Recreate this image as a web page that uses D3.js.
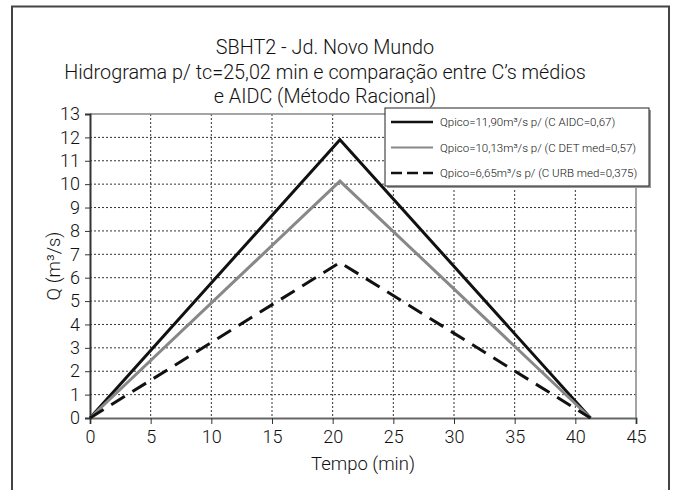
<!DOCTYPE html>
<html><head><meta charset="utf-8">
<script src="https://cdn.jsdelivr.net/npm/d3@7"></script>
<style>
body{margin:0;background:#fff;}
svg{display:block;font-family:Roboto,"Liberation Sans",Arial,sans-serif;font-weight:300;}
</style></head>
<body><svg id="c" width="675" height="490"></svg>
<script>
const titleLines = ["SBHT2 - Jd. Novo Mundo", "Hidrograma p/ tc=25,02 min e comparação entre C’s médios", "e AIDC (Método Racional)"];
const time = [0, 20.6, 41.25];
const qAIDC = [0, 11.90, 0];
const qDET = [0, 10.13, 0];
const qURB = [0, 6.65, 0];
const seriesNames = ["Qpico=11,90m³/s p/ (C AIDC=0,67)", "Qpico=10,13m³/s p/ (C DET med=0,57)", "Qpico=6,65m³/s p/ (C URB med=0,375)"];
const xTicks = [0,5,10,15,20,25,30,35,40,45];
const yTicks = [0,1,2,3,4,5,6,7,8,9,10,11,12,13];
const xLabel = "Tempo (min)";
const yLabel = "Q (m³/s)";

const FONT = "Roboto, Liberation Sans, Arial, sans-serif";
const svg = d3.select("#c");
const m = {l:90, t:114, w:546, h:304};
const x = d3.scaleLinear().domain([0,45]).range([m.l, m.l+m.w]);
const y = d3.scaleLinear().domain([0,13]).range([m.t+m.h, m.t]);

// outer frame
svg.append("rect").attr("x",12).attr("y",6.5).attr("width",657).attr("height",520)
  .attr("fill","none").attr("stroke","#444").attr("stroke-width",2);

// titles
svg.selectAll("text.title").data(titleLines).enter().append("text")
  .attr("x",325).attr("y",(d,i)=>54+i*24.5).attr("text-anchor","middle")
  .attr("font-size",19.8).attr("fill","#111").text(d=>d);

// grid
const g = svg.append("g");
g.selectAll("line.hg").data(yTicks.filter(d=>d>0&&d<13)).enter().append("line")
  .attr("x1",m.l).attr("x2",m.l+m.w).attr("y1",d=>y(d)).attr("y2",d=>y(d))
  .attr("stroke","#333").attr("stroke-width",1).attr("stroke-dasharray","2,2");
g.selectAll("line.vg").data(xTicks.filter(d=>d>0&&d<45)).enter().append("line")
  .attr("y1",m.t).attr("y2",m.t+m.h).attr("x1",d=>x(d)).attr("x2",d=>x(d))
  .attr("stroke","#333").attr("stroke-width",1).attr("stroke-dasharray","2,2");

// plot border top/right
svg.append("path").attr("d",`M${m.l},${m.t}H${m.l+m.w}V${m.t+m.h}`)
  .attr("fill","none").attr("stroke","#888").attr("stroke-width",1.5);

// axes
const xAxis = svg.append("g").attr("transform",`translate(0,${m.t+m.h})`)
  .call(d3.axisBottom(x).tickValues(xTicks).tickSize(6).tickPadding(6).tickFormat(d3.format("d")));
xAxis.select(".domain").attr("stroke","#666").attr("stroke-width",2);
xAxis.selectAll(".tick line").attr("stroke","#333");
xAxis.selectAll("text").attr("font-size",18).attr("fill","#111").attr("font-family",FONT).attr("font-weight",300);

const yAxis = svg.append("g").attr("transform",`translate(${m.l},0)`)
  .call(d3.axisLeft(y).tickValues(yTicks).tickSize(5).tickPadding(5).tickFormat(d3.format("d")));
yAxis.select(".domain").attr("stroke","#333").attr("stroke-width",2);
yAxis.selectAll(".tick line").attr("stroke","#333");
yAxis.selectAll("text").attr("font-size",18).attr("fill","#111").attr("font-family",FONT).attr("font-weight",300);

svg.append("text").attr("x",x(22.5)).attr("y",470).attr("text-anchor","middle")
  .attr("font-size",18.5).attr("fill","#111").text(xLabel);
svg.append("text").attr("transform",`translate(60,${y(6.5)}) rotate(-90)`).attr("text-anchor","middle")
  .attr("font-size",18.5).attr("fill","#111").text(yLabel);

// lines
const series = [
  {vals:qAIDC, color:"#111", dash:null},
  {vals:qDET, color:"#888", dash:null},
  {vals:qURB, color:"#111", dash:"16,9"}
];
const line = d3.line().x(d=>x(d[0])).y(d=>y(d[1]));
series.forEach(s=>{
  svg.append("path").datum(time.map((t,i)=>[t,s.vals[i]])).attr("d",line)
    .attr("fill","none").attr("stroke",s.color).attr("stroke-width",3)
    .attr("stroke-dasharray",s.dash);
});

// legend
const lg = svg.append("g");
lg.append("rect").attr("x",387).attr("y",110).attr("width",264).attr("height",78).attr("fill","#999");
lg.append("rect").attr("x",385).attr("y",108).attr("width",264).attr("height",78)
  .attr("fill","#fff").attr("stroke","#222").attr("stroke-width",1);
series.forEach((s,i)=>{
  const yy = 122 + i*25.5;
  lg.append("line").attr("x1",391).attr("x2",433).attr("y1",yy).attr("y2",yy)
    .attr("stroke",s.color).attr("stroke-width",s.color==="#888"?2:2.5).attr("stroke-dasharray",s.dash?"11,5":null);
  lg.append("text").attr("x",440).attr("y",yy+4).attr("font-size",11.5).attr("fill","#111").text(seriesNames[i]);
});
</script></body></html>
